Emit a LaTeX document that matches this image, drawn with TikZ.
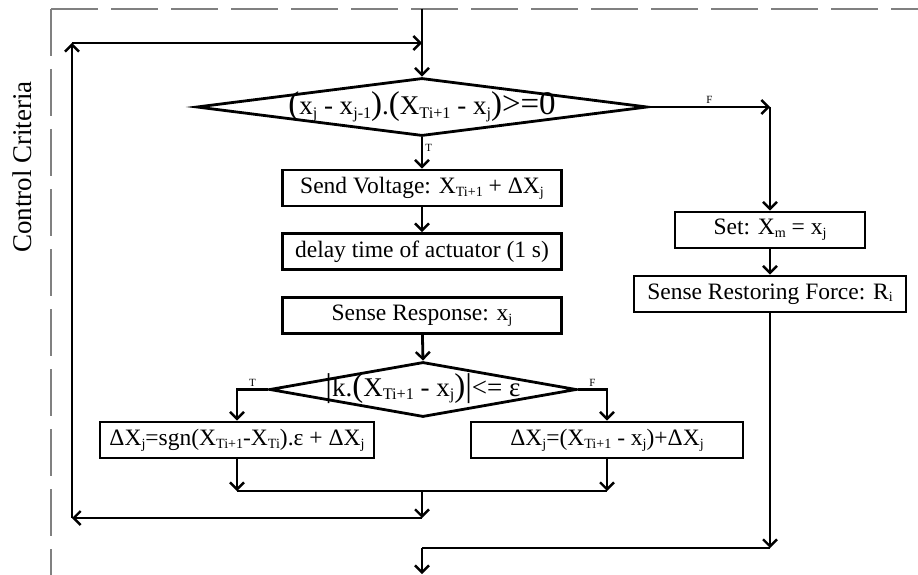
\documentclass[tikz,border=0pt]{standalone}
\usepackage{fontspec}
\usepackage{graphicx}
\setmainfont{Liberation Serif}
\usetikzlibrary{shapes.geometric,arrows.meta}

\newcommand\sbs[1]{\raisebox{-0.25ex}{\scalebox{0.6}{#1}}}
\newcommand\bigp[1]{{\fontsize{33}{33}\selectfont #1}}

\begin{document}
\begin{tikzpicture}[x=1pt,y=-1pt,
  box/.style={draw,line width=2.8pt,inner sep=0pt,minimum height=36pt,
    font=\fontsize{23.5}{26}\selectfont},
  decision/.style={draw,diamond,line width=2.8pt,inner sep=0pt,aspect=8,
    font=\fontsize{27}{28}\selectfont},
  flow/.style={line width=2.8pt,-{Straight Barb[length=7pt,width=14pt,line width=2.4pt]}},
  wire/.style={line width=2.8pt},
  lbl/.style={font=\fontsize{11}{12}\selectfont,inner sep=2pt},
  frame/.style={draw=gray,line width=1.3pt,dash pattern=on 47pt off 13pt}]
\useasboundingbox (0,0) rectangle (918,575);

% dashed frame
\draw[frame] (51,9) -- (918,9);
\draw[frame] (51,9) -- (51,575);
\node[rotate=90,font=\fontsize{27}{28}\selectfont] (crit) at (22,167) {Control Criteria};

% main column
\coordinate (in) at (422,9);
\node[decision,minimum width=451pt,minimum height=58pt] (d1) at (422,107)
  {\smash{\makebox[0pt]{\raisebox{-8pt}{\bigp{(}x\sbs{j} - x\sbs{j-1}\bigp{)}.\bigp{(}X\sbs{Ti+1} - x\sbs{j}\bigp{)>=0}}}}};
\node[box,minimum width=279pt] (send) at (422,188) {Send Voltage: X\sbs{Ti+1} + ΔX\sbs{j}};
\node[box,minimum width=279pt] (delay) at (422,251.5) {delay time of actuator (1 s)};
\node[box,minimum width=279pt] (sense) at (422,315.5) {Sense Response: x\sbs{j}};
\node[decision,minimum width=307pt,minimum height=55pt] (d2) at (423,389.5)
  {\smash{\makebox[0pt]{\raisebox{-7pt}{\bigp{|}k.\bigp{(}X\sbs{Ti+1} - x\sbs{j}\bigp{)|}<= ε}}}};
\node[box,minimum width=274pt] (lbox) at (237,440) {ΔX\sbs{j}=sgn(X\sbs{Ti+1}-X\sbs{Ti}).ε + ΔX\sbs{j}};
\node[box,minimum width=272pt] (rbox) at (607,440) {ΔX\sbs{j}=(X\sbs{Ti+1} - x\sbs{j})+ΔX\sbs{j}};

% right column
\node[box,minimum width=190pt] (set) at (770,230) {Set: X\sbs{m} = x\sbs{j}};
\node[box,minimum width=272pt] (rest) at (770,294) {Sense Restoring Force: R\sbs{i}};

\coordinate (jin) at (422,43);
\coordinate (tl) at (72,43);
\coordinate (bl) at (72,518);
\coordinate (back) at (422,518);
\coordinate (fr) at (770,107);
\coordinate (ml) at (237,491);
\coordinate (mr) at (607,491);
\coordinate (mm) at (422,491);
\coordinate (ob) at (770,548);
\coordinate (oj) at (422,548);
\coordinate (out) at (422,574);

\draw[wire] (in) -- (jin);
\draw[flow] (jin) -- (d1.north);
\draw[flow] (d1.east) -- node[lbl,above] {F} (fr);
\draw[flow] (fr) -- (set.north);
\draw[flow] (d1.south) -- node[lbl,right,pos=0.35] {T} (send.north);
\draw[flow] (send) -- (delay);
\draw[flow] (sense) -- (d2.north);
\draw[flow] (d2.west) -- node[lbl,above] {T} (d2.west -| lbox.north) -- (lbox.north);
\draw[flow] (d2.east) -- node[lbl,above] {F} (d2.east -| rbox.north) -- (rbox.north);
\draw[flow] (lbox) -- (ml);
\draw[flow] (rbox) -- (mr);
\draw[wire] (ml) -- (mr);
\draw[flow] (mm) -- (back);
\draw[flow] (back) -- (bl);
\draw[flow] (bl) -- (tl);
\draw[flow] (tl) -- (jin);
\draw[flow] (set) -- (rest);
\draw[flow] (rest) -- (ob);
\draw[wire] (ob) -- (oj);
\draw[flow] (oj) -- (out);
\end{tikzpicture}
\end{document}
